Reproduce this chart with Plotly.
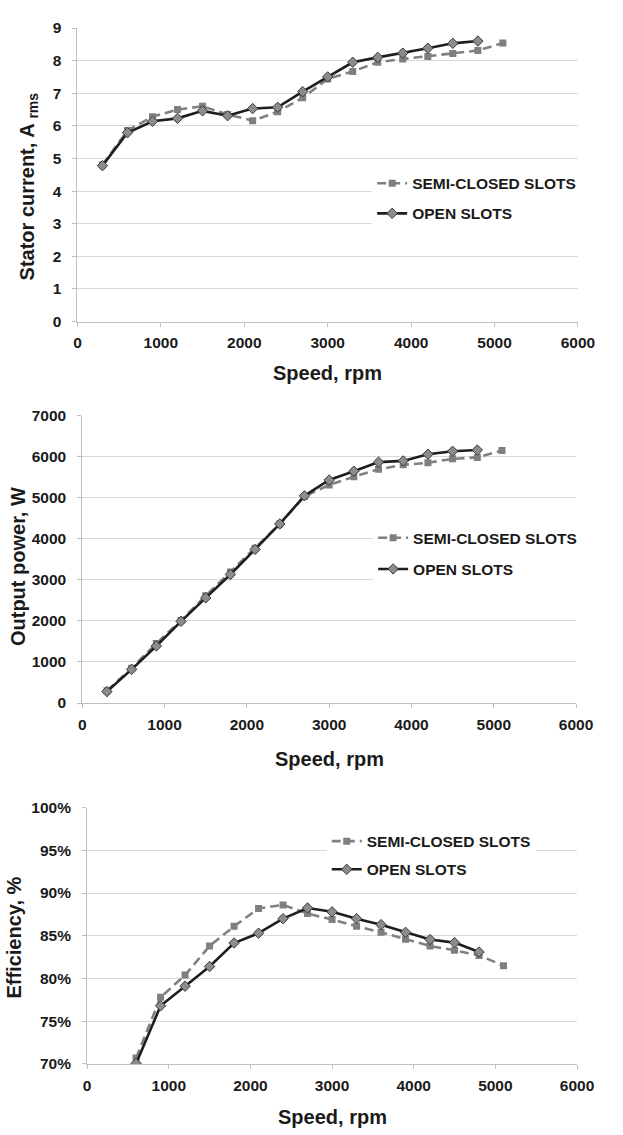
import plotly.graph_objects as go

# ---------------- data ----------------
speed_semi = [300, 600, 900, 1200, 1500, 1800, 2100, 2400, 2700, 3000, 3300, 3600, 3900, 4200, 4500, 4800, 5100]
speed_open = [300, 600, 900, 1200, 1500, 1800, 2100, 2400, 2700, 3000, 3300, 3600, 3900, 4200, 4500, 4800]

current_semi = [4.80, 5.86, 6.28, 6.50, 6.60, 6.35, 6.16, 6.43, 6.86, 7.44, 7.67, 7.95, 8.05, 8.13, 8.22, 8.31, 8.54]
current_open = [4.78, 5.79, 6.14, 6.23, 6.46, 6.31, 6.53, 6.57, 7.05, 7.50, 7.95, 8.10, 8.23, 8.38, 8.53, 8.60]

power_semi = [300, 850, 1450, 2010, 2610, 3190, 3770, 4360, 5030, 5310, 5510, 5690, 5800, 5850, 5945, 5980, 6146]
power_open = [280, 820, 1390, 1990, 2560, 3130, 3740, 4360, 5045, 5430, 5645, 5865, 5895, 6058, 6130, 6160]

eff_speed_semi = [600, 900, 1200, 1500, 1800, 2100, 2400, 2700, 3000, 3300, 3600, 3900, 4200, 4500, 4800, 5100]
eff_speed_open = [600, 900, 1200, 1500, 1800, 2100, 2400, 2700, 3000, 3300, 3600, 3900, 4200, 4500, 4800]
eff_semi = [70.7, 77.8, 80.4, 83.8, 86.1, 88.2, 88.6, 87.6, 86.9, 86.1, 85.4, 84.6, 83.8, 83.3, 82.7, 81.5]
eff_open = [70.05, 76.8, 79.1, 81.4, 84.15, 85.3, 87.0, 88.25, 87.8, 87.0, 86.3, 85.4, 84.56, 84.2, 83.1]

series_names = ["SEMI-CLOSED SLOTS", "OPEN SLOTS"]
x_ticks = [0, 1000, 2000, 3000, 4000, 5000, 6000]
x_title = "Speed, rpm"
y_titles = ["Stator current, A <sub>rms</sub>", "Output power, W", "Efficiency, %"]

# ---------------- layout helpers ----------------
W, H = 623, 1135
FONT = "Liberation Sans, Arial, sans-serif"
TXT = "#1a1a1a"


def fx(px):
    return px / W


def fy(py):
    return 1 - py / H


# plot-area pixel boxes (left, right, top, bottom)
boxes = [(76, 594, 19.3, 317.3), (81, 592, 412.7, 704.6), (86, 593, 810.7, 1071)]
y_ranges = [[0, 9], [0, 7000], [70, 100]]
y_dticks = [1, 1000, 5]
y_suffix = ["", "", "%"]

fig = go.Figure()

data_sets = [
    (speed_semi, current_semi, speed_open, current_open),
    (speed_semi, power_semi, speed_open, power_open),
    (eff_speed_semi, eff_semi, eff_speed_open, eff_open),
]

for i, (xs, ys, xo, yo) in enumerate(data_sets):
    n = "" if i == 0 else str(i + 1)
    leg = "legend" if i == 0 else "legend" + str(i + 1)
    fig.add_trace(go.Scatter(
        x=xs, y=ys, name=series_names[0], mode="lines+markers",
        xaxis="x" + n, yaxis="y" + n, legend=leg, legendgroup="s" + n,
        line=dict(color="#808080", width=2.6, dash="9px,5px"),
        marker=dict(symbol="square", size=7, color="#7f7f7f"),
    ))
    fig.add_trace(go.Scatter(
        x=xo, y=yo, name=series_names[1], mode="lines+markers",
        xaxis="x" + n, yaxis="y" + n, legend=leg, legendgroup="o" + n,
        line=dict(color="#1e1e1e", width=2.6),
        marker=dict(symbol="diamond", size=8, color="#8c8c8c",
                    line=dict(color="#3a3a3a", width=1)),
    ))

layout = dict(
    width=W, height=H, margin=dict(l=0, r=0, t=0, b=0),
    paper_bgcolor="white", plot_bgcolor="white",
    font=dict(family=FONT, color=TXT),
    showlegend=True,
)

for i, (l, r, t, b) in enumerate(boxes):
    n = "" if i == 0 else str(i + 1)
    layout["xaxis" + n] = dict(
        domain=[fx(l), fx(r)], anchor="y" + n, range=[0, 6000],
        tickvals=x_ticks, showline=True, linecolor="#bfbfbf", linewidth=1,
        ticks="outside", ticklen=4, tickcolor="#bfbfbf", showgrid=False,
        zeroline=False, ticklabelstandoff=3,
        tickfont=dict(family=FONT, size=15.5, color=TXT, weight="bold"),
    )
    layout["yaxis" + n] = dict(
        domain=[fy(b), fy(t)], anchor="x" + n, range=y_ranges[i],
        dtick=y_dticks[i], ticksuffix=y_suffix[i], showline=True,
        linecolor="#bfbfbf", linewidth=1, ticks="outside", ticklen=4,
        tickcolor="#bfbfbf", showgrid=True, gridcolor="#d9d9d9", gridwidth=1,
        zeroline=False, ticklabelstandoff=8,
        tickfont=dict(family=FONT, size=15.5, color=TXT, weight="bold"),
    )

legend_pos = [(381, 160, 7), (382, 520, 8), (334, 828, 5)]
for i, (lx, ly, gap) in enumerate(legend_pos):
    key = "legend" if i == 0 else "legend" + str(i + 1)
    layout[key] = dict(
        x=fx(lx), y=fy(ly), xanchor="left", yanchor="top",
        bgcolor="white", borderwidth=0, itemwidth=30, tracegroupgap=gap,
        font=dict(family=FONT, size=15.5, color=TXT, weight="bold"),
    )

annotations = []
title_x = [(335, 370), (336.5, 761), (339.5, 1125)]
for (cx, cy) in title_x:
    annotations.append(dict(
        text=x_title, x=fx(cx), y=fy(cy), xref="paper", yref="paper",
        showarrow=False, xanchor="center", yanchor="middle",
        font=dict(family=FONT, size=20, color=TXT, weight="bold"),
    ))
ytitle_pos = [(25, 180), (14, 566), (10, 943)]
for txt, (cx, cy) in zip(y_titles, ytitle_pos):
    annotations.append(dict(
        text=txt, x=fx(cx), y=fy(cy), xref="paper", yref="paper",
        showarrow=False, xanchor="center", yanchor="middle", textangle=-90,
        font=dict(family=FONT, size=20, color=TXT, weight="bold"),
    ))
layout["annotations"] = annotations

fig.update_layout(**layout)
fig.write_html("out.html")
